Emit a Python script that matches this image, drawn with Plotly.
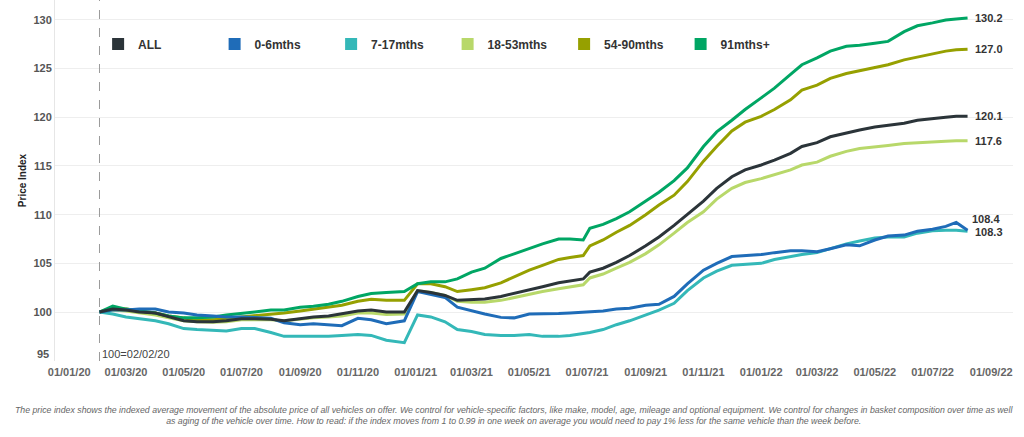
import plotly.graph_objects as go

dates = [
    "2020-02-02", "2020-02-16", "2020-03-01", "2020-03-15", "2020-04-01", "2020-04-15",
    "2020-05-01", "2020-05-15", "2020-06-01", "2020-06-15", "2020-07-01", "2020-07-15",
    "2020-08-01", "2020-08-15", "2020-09-01", "2020-09-15", "2020-10-01", "2020-10-15",
    "2020-11-01", "2020-11-15", "2020-12-01", "2020-12-20", "2021-01-03", "2021-01-17",
    "2021-02-01", "2021-02-14", "2021-03-01", "2021-03-15", "2021-04-01", "2021-04-15",
    "2021-05-01", "2021-05-15", "2021-06-01", "2021-06-13", "2021-06-27", "2021-07-04",
    "2021-07-18", "2021-08-01", "2021-08-15", "2021-09-01", "2021-09-15", "2021-10-01",
    "2021-10-15", "2021-11-01", "2021-11-15", "2021-12-01", "2021-12-15", "2022-01-01",
    "2022-01-15", "2022-02-01", "2022-02-13", "2022-03-01", "2022-03-15", "2022-04-01",
    "2022-04-15", "2022-05-01", "2022-05-15", "2022-06-01", "2022-06-15", "2022-07-01",
    "2022-07-15", "2022-07-26", "2022-08-07",
]

all_vals = [
    100.0, 100.3, 100.2, 100.0, 99.9, 99.5, 99.1, 99.0, 99.0, 99.1, 99.3, 99.3,
    99.25, 99.1, 99.35, 99.5, 99.6, 99.8, 100.1, 100.2, 100.0, 100.0, 102.2, 102.0,
    101.7, 101.2, 101.25, 101.35, 101.6, 101.9, 102.3, 102.6, 103.0, 103.2, 103.4, 104.1,
    104.5, 105.1, 105.8, 106.8, 107.7, 108.9, 110.0, 111.4, 112.7, 113.9, 114.6, 115.1,
    115.6, 116.3, 117.0, 117.4, 118.0, 118.4, 118.7, 119.0, 119.2, 119.4, 119.7, 119.9,
    120.0, 120.1, 120.1,
]
m0_6 = [
    100.0, 100.2, 100.2, 100.3, 100.3, 100.0, 99.9, 99.7, 99.6, 99.5, 99.5, 99.4,
    99.35, 98.9, 98.7, 98.8, 98.7, 98.6, 99.35, 99.2, 98.8, 99.1, 102.1, 101.8,
    101.5, 100.5, 100.1, 99.8, 99.45, 99.4, 99.8, 99.8, 99.85, 99.9, 100.0, 100.0,
    100.1, 100.3, 100.4, 100.7, 100.8, 101.6, 102.9, 104.3, 105.0, 105.7, 105.8, 105.9,
    106.1, 106.3, 106.3, 106.2, 106.5, 106.9, 106.8, 107.4, 107.8, 107.9, 108.3, 108.5,
    108.8, 109.2, 108.4,
]
m7_17 = [
    100.0, 99.8, 99.5, 99.3, 99.1, 98.8, 98.3, 98.2, 98.15, 98.05, 98.3, 98.3,
    97.9, 97.5, 97.5, 97.5, 97.5, 97.6, 97.7, 97.6, 97.1, 96.85, 99.7, 99.5,
    99.0, 98.2, 98.0, 97.7, 97.6, 97.6, 97.7, 97.5, 97.5, 97.6, 97.8, 97.9,
    98.2, 98.7, 99.1, 99.7, 100.2, 100.9, 102.2, 103.5, 104.2, 104.8, 104.9, 105.0,
    105.4, 105.7, 105.9, 106.1, 106.5, 107.0, 107.3, 107.6, 107.7, 107.7, 108.1, 108.35,
    108.4, 108.4, 108.3,
]
m18_53 = [
    100.0, 100.2, 100.1, 99.9, 99.7, 99.4, 99.1, 99.0, 98.95, 99.0, 99.2, 99.2,
    99.2, 99.1, 99.3, 99.4, 99.5, 99.6, 99.9, 99.9, 99.75, 99.8, 102.2, 102.0,
    101.7, 101.1, 101.0, 101.0, 101.2, 101.5, 101.85, 102.1, 102.4, 102.6, 102.8, 103.5,
    103.9, 104.5, 105.1, 106.0, 106.9, 108.1, 109.2, 110.3, 111.6, 112.7, 113.3, 113.7,
    114.1, 114.6, 115.1, 115.4, 116.0, 116.5, 116.8, 117.0, 117.1, 117.3, 117.4, 117.5,
    117.55, 117.6, 117.6,
]
m54_90 = [
    100.0, 100.4, 100.3, 100.1, 99.9, 99.6, 99.35, 99.2, 99.2, 99.3, 99.5, 99.6,
    99.8, 99.9, 100.1, 100.3, 100.5, 100.7, 101.1, 101.3, 101.2, 101.2, 102.9, 102.9,
    102.6, 102.1, 102.3, 102.5, 103.0, 103.6, 104.3, 104.8, 105.4, 105.6, 105.8, 106.8,
    107.4, 108.2, 108.9, 110.0, 111.0, 112.0, 113.4, 115.5, 117.0, 118.6, 119.5, 120.1,
    120.8, 121.8, 122.8, 123.3, 124.0, 124.5, 124.8, 125.1, 125.4, 125.9, 126.2, 126.5,
    126.8, 126.95, 127.0,
]
m91_plus = [
    100.0, 100.6, 100.3, 100.1, 99.9, 99.6, 99.4, 99.4, 99.5, 99.7, 99.9, 100.0,
    100.2, 100.2, 100.5, 100.6, 100.8, 101.1, 101.6, 101.9, 102.0, 102.1, 102.9, 103.1,
    103.1, 103.4, 104.1, 104.5, 105.5, 106.0, 106.5, 107.0, 107.5, 107.5, 107.4, 108.6,
    109.0, 109.6, 110.3, 111.4, 112.3, 113.5, 114.8, 117.0, 118.5, 119.7, 120.8, 122.0,
    123.0, 124.4, 125.4, 126.1, 126.8, 127.3, 127.4, 127.6, 127.8, 128.8, 129.4, 129.7,
    130.0, 130.1, 130.2,
]

series_names = ["ALL", "0-6mths", "7-17mths", "18-53mths", "54-90mths", "91mths+"]
series_values = [all_vals, m0_6, m7_17, m18_53, m54_90, m91_plus]
series_colors = ["#2b3439", "#1f6cb8", "#34b8b8", "#b8d86a", "#96a000", "#00a664"]
draw_order = [3, 4, 5, 2, 1, 0]  # which series is drawn first (bottom) to last (top)

x_tick_vals = ["2020-01-01", "2020-03-01", "2020-05-01", "2020-07-01", "2020-09-01",
               "2020-11-01", "2021-01-01", "2021-03-01", "2021-05-01", "2021-07-01",
               "2021-09-01", "2021-11-01", "2022-01-01", "2022-03-01", "2022-05-01",
               "2022-07-01", "2022-09-01"]
y_tick_vals = [95, 100, 105, 110, 115, 120, 125, 130]
y_tick_text = ["", "100", "105", "110", "115", "120", "125", "130"]
y_bottom_label = "95"
base_date = "2020-02-02"
base_label = "100=02/02/20"
footnote = ("The price index shows the indexed average movement of the absolute price of all vehicles on offer. "
            "We control for vehicle-specific factors, like make, model, age, mileage and optional equipment. "
            "We control for changes in basket composition over time as well<br>as aging of the vehicle over time. "
            "How to read: if the index moves from 1 to 0.99 in one week on average you would need to pay 1% less "
            "for the same vehicle than the week before.")

fig = go.Figure()

for i in draw_order:
    fig.add_trace(go.Scatter(
        x=dates, y=series_values[i], mode="lines", name=series_names[i],
        line=dict(color=series_colors[i], width=3), showlegend=False,
    ))

# legend entries (square swatches)
for i in range(len(series_names)):
    fig.add_trace(go.Scatter(
        x=[None], y=[None], mode="markers", name=series_names[i],
        marker=dict(color=series_colors[i], symbol="square", size=12),
        showlegend=True,
    ))

# end labels
label_shifts = {"0-6mths": (2, 11), "7-17mths": (5, -1)}
for i, name in enumerate(series_names):
    xs, ys = label_shifts.get(name, (5, 0))
    fig.add_annotation(
        x=dates[-1], y=series_values[i][-1], text=f"<b>{series_values[i][-1]:.1f}</b>",
        showarrow=False, xanchor="left", yanchor="middle", xshift=xs, yshift=ys,
        font=dict(size=11, color="#333333"),
    )

# bottom y tick label, lifted inside like the reference
fig.add_annotation(x=0, y=y_tick_vals[0], xref="paper", yref="y", text=f"<b>{y_bottom_label}</b>",
                   showarrow=False, xanchor="right", yanchor="middle", xshift=-4, yshift=7,
                   font=dict(size=11, color="#555555"))

fig.add_shape(type="line", x0=base_date, x1=base_date, y0=0, y1=1, xref="x", yref="paper",
              line=dict(color="#9a9a9a", width=1, dash="dash"))
fig.add_annotation(x=base_date, y=0, xref="x", yref="paper", text=base_label, showarrow=False,
                   xanchor="left", yanchor="bottom", xshift=1, yshift=-1,
                   font=dict(size=11, color="#444444"))

fig.add_annotation(x=0.479, y=-0.115, xref="paper", yref="paper", text=f"<i>{footnote}</i>",
                   showarrow=False, xanchor="center", yanchor="top", align="center",
                   font=dict(size=8.75, color="#666666"))

fig.update_layout(
    width=1024, height=437,
    margin=dict(l=55, r=11, t=0, b=76),
    paper_bgcolor="white", plot_bgcolor="white",
    font=dict(family="Liberation Sans, Arial, sans-serif"),
    legend=dict(orientation="h", x=0.045, y=0.878, xanchor="left", yanchor="middle",
                font=dict(size=12, color="#333333", weight="bold"),
                entrywidth=71.5, entrywidthmode="pixels", bgcolor="rgba(0,0,0,0)"),
    xaxis=dict(
        type="date", range=["2019-12-17", "2022-09-24"],
        tickvals=x_tick_vals, tickformat="%d/%m/%y",
        tickfont=dict(size=11, color="#666666", weight="bold"),
        showgrid=False, zeroline=False, showline=False,
        ticks="", ticklabelstandoff=3,
    ),
    yaxis=dict(
        range=[94.97, 132.05], tickvals=y_tick_vals, ticktext=y_tick_text,
        tickfont=dict(size=11, color="#555555", weight="bold"),
        showgrid=True, gridcolor="#eeeeee", gridwidth=1, zeroline=False,
        showline=True, linecolor="#e6e6e6", linewidth=1, ticks="",
        title=dict(text="<b>Price Index</b>", font=dict(size=10, color="#222222"), standoff=4),
    ),
)

fig.write_html("out.html", config={"displayModeBar": False},
               post_script="document.body.style.margin='0';")
